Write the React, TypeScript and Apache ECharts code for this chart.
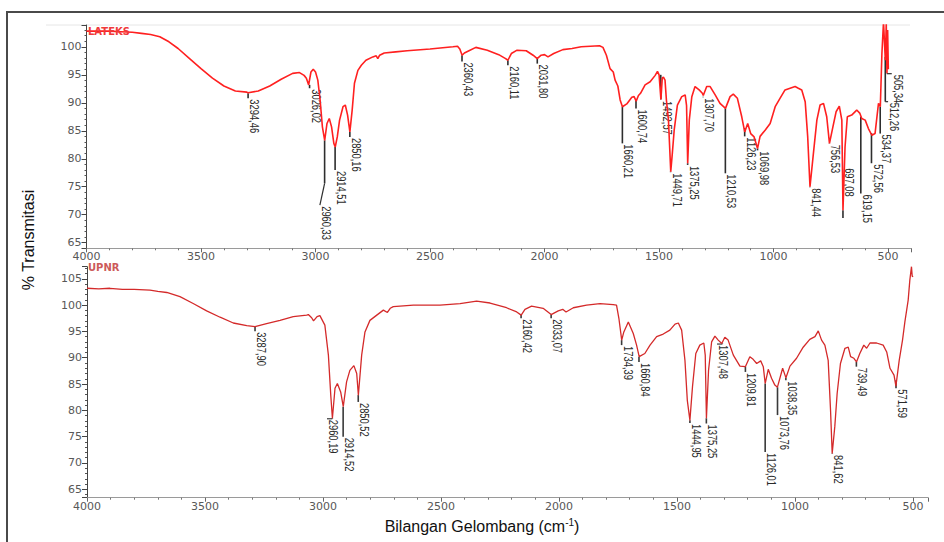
import React, { useEffect, useRef } from "react";
import * as echarts from "echarts";

// ---------- LATEKS spectrum (top) ----------
const lateksWn = [
  4000, 3950, 3900, 3850, 3800, 3760, 3720, 3680, 3640, 3600, 3550, 3500, 3450, 3400, 3350, 3300, 3294,
  3250, 3200, 3150, 3100, 3070, 3050, 3040, 3030, 3020, 3010, 3000, 2990, 2980, 2970, 2960, 2950, 2940,
  2930, 2920, 2914, 2905, 2895, 2880, 2870, 2860, 2850, 2840, 2830, 2815, 2800, 2780, 2750, 2735, 2728,
  2720, 2700, 2650, 2600, 2500, 2400, 2380, 2370, 2360, 2350, 2330, 2300, 2250, 2200, 2170, 2160, 2145,
  2120, 2080, 2050, 2032, 2015, 2000, 1985, 1960, 1920, 1880, 1840, 1800, 1760, 1745, 1730, 1714, 1700,
  1692, 1680, 1670, 1660, 1641, 1619, 1609, 1600, 1590, 1581, 1561, 1539, 1517, 1507, 1500, 1492, 1486,
  1481, 1474, 1468, 1459, 1449, 1442, 1434, 1420, 1401, 1386, 1380, 1375, 1368, 1357, 1343, 1325, 1311,
  1307, 1292, 1277, 1255, 1234, 1210, 1190, 1176, 1158, 1139, 1126, 1113, 1100, 1085, 1070, 1059, 1037,
  1015, 993, 972, 950, 928, 906, 892, 877, 862, 851, 841, 826, 811, 797, 782, 768, 756, 741, 727, 713,
  702, 697, 688, 678, 659, 637, 623, 615, 600, 586, 571, 557, 542, 534, 527, 520, 515, 512, 508, 505,
  502, 499,
];
const lateksT = [
  102.8, 102.8, 102.8, 102.7, 102.6, 102.4, 102.2, 101.8, 100.9, 99.7, 97.9, 96.1, 94.4, 93.0, 92.1, 91.9, 91.8,
  92.1, 93.0, 94.2, 95.25, 95.4, 94.9, 94.4, 93.2, 95.5, 96.0, 95.5, 94.05, 90.5, 85.7, 83.3, 86.3, 87.2,
  85.7, 82.75, 82.1, 83.9, 86.9, 89.3, 89.6, 87.8, 84.8, 88.7, 93.5, 95.8, 96.7, 97.6, 98.2, 98.4, 97.9,
  98.5, 98.9, 99.1, 99.3, 99.6, 100.0, 100.1, 99.6, 98.5, 98.9, 99.3, 99.9, 99.4, 98.6, 97.9, 97.6, 98.8,
  99.4, 99.3, 98.5, 97.9, 98.5, 98.6, 98.2, 98.8, 99.5, 99.7, 100.0, 100.1, 100.2, 99.9, 98.5, 96.1, 95.5,
  94.05, 93.0, 90.5, 89.3, 89.8, 91.0, 91.1, 90.3, 91.3, 91.7, 93.2, 93.75, 94.9, 95.6, 95.0, 90.6, 94.4,
  94.6, 94.05, 90.5, 86.9, 77.7, 81.0, 85.1, 89.6, 91.1, 91.4, 89.5, 79.2, 86.9, 91.1, 92.9, 92.3, 91.7,
  91.3, 92.9, 92.9, 91.4, 89.9, 89.0, 91.1, 91.55, 90.8, 87.5, 84.8, 86.3, 84.5, 83.9, 81.85, 84.0, 85.1,
  86.3, 89.3, 90.8, 92.3, 92.6, 92.9, 92.6, 92.3, 90.2, 83.9, 75.0, 81.0, 86.9, 89.6, 89.9, 87.5, 82.75, 85.7, 88.4, 89.4,
  86.9, 70.8, 82.1, 87.5, 87.8, 88.7, 88.1, 87.2, 86.9, 85.4, 84.2, 84.5, 89.9, 89.3, 98.8, 104.5, 100.0, 97.6, 104.2, 95.3,
  103.0, 96.0,
];

// ---------- UPNR spectrum (bottom) ----------
const upnrWn = [
  4000, 3950, 3903, 3850, 3800, 3733, 3700, 3662, 3606, 3550, 3493, 3436, 3380, 3323, 3288, 3239, 3182,
  3126, 3069, 3062, 3048, 3040, 3025, 3013, 2992, 2977, 2967, 2960, 2949, 2939, 2925, 2914, 2900, 2886,
  2869, 2857, 2850, 2836, 2822, 2801, 2772, 2744, 2727, 2715, 2702, 2617, 2504, 2419, 2349, 2292, 2222,
  2179, 2160, 2144, 2116, 2067, 2033, 2003, 1984, 1970, 1939, 1883, 1826, 1770, 1756, 1746, 1734, 1725,
  1706, 1685, 1671, 1660, 1636, 1614, 1586, 1558, 1530, 1508, 1494, 1480, 1466, 1456, 1445, 1434, 1420,
  1403, 1386, 1380, 1375, 1366, 1353, 1339, 1325, 1310, 1297, 1283, 1261, 1233, 1210, 1191, 1177, 1162,
  1145, 1134, 1126, 1113, 1099, 1085, 1074, 1052, 1042, 1038, 1021, 993, 965, 937, 915, 901, 887, 873,
  859, 849, 842, 831, 821, 807, 788, 774, 764, 750, 739, 725, 708, 696, 682, 654, 626, 611, 597, 580,
  572, 558, 544, 534, 520, 513, 506, 503, 499,
];
const upnrT = [
  103.2, 103.1, 103.2, 103.0, 103.0, 102.85, 102.6, 102.4, 101.6, 100.3, 98.9, 97.7, 96.6, 96.1, 95.9, 96.5, 97.1,
  97.8, 98.1, 98.2, 97.6, 97.0, 97.8, 98.0, 96.2, 90.5, 82.9, 78.5, 84.2, 85.1, 83.5, 80.7, 85.4, 87.6,
  88.5, 87.0, 82.9, 90.5, 94.9, 97.1, 98.1, 99.05, 98.6, 99.4, 99.7, 100.0, 100.0, 100.3, 100.75, 100.4, 99.5,
  98.7, 98.1, 99.2, 99.8, 99.4, 98.2, 98.9, 99.2, 98.7, 99.5, 100.0, 100.3, 100.1, 100.0, 97.5, 93.35, 94.9,
  96.8, 94.6, 92.4, 90.2, 90.8, 92.4, 94.0, 94.5, 95.25, 96.4, 96.6, 95.25, 89.5, 81.9, 78.1, 84.5, 90.8,
  92.4, 92.8, 90.5, 78.5, 87.6, 93.0, 94.1, 93.35, 92.7, 93.9, 93.35, 90.5, 88.4, 88.3, 90.2, 89.7, 88.9,
  89.4, 88.3, 85.1, 87.8, 86.1, 84.8, 84.4, 88.0, 86.7, 86.2, 88.4, 89.9, 92.0, 93.5, 94.0, 95.1, 93.35, 92.4,
  89.5, 80.0, 71.8, 76.9, 83.2, 88.9, 91.8, 92.0, 90.2, 89.9, 89.2, 90.8, 92.4, 91.8, 92.8, 92.8, 92.4, 91.1, 88.0, 86.7,
  84.6, 89.5, 93.35, 96.8, 100.95, 104.75, 107.3, 105.5, 105.4,
];

// ---------- Peak annotations ----------
const lateksPeakWn = [3294.46, 3026.02, 2960.33, 2914.51, 2850.16, 2360.43, 2160.11, 2031.8, 1660.21, 1600.74, 1492.57, 1449.71, 1375.25, 1307.7, 1210.53, 1126.23, 1069.98, 841.44, 756.53, 697.08, 619.15, 572.56, 534.37, 512.26, 505.34];
const lateksPeakLabels = ["3294,46", "3026,02", "2960,33", "2914,51", "2850,16", "2360,43", "2160,11", "2031,80", "1660,21", "1600,74", "1492,57", "1449,71", "1375,25", "1307,70", "1210,53", "1126,23", "1069,98", "841,44", "756,53", "697,08", "619,15", "572,56", "534,37", "512,26", "505,34"];
const lateksPeakT = [91.7, 93.2, 83.3, 82.1, 84.8, 98.5, 97.6, 97.9, 89.3, 90.5, 95.0, 77.7, 79.2, 91.1, 89.0, 85.5, 81.85, 75.0, 82.75, 70.8, 87.5, 84.6, 89.3, 98.2, 95.25];
const lateksTickEndT = [90.8, 92.6, 75.6, 78.0, 83.9, 97.4, 96.7, 97.0, 82.75, 89.0, 90.6, 77.6, 78.9, 91.0, 77.4, 84.0, 81.5, 74.9, 82.7, 69.4, 73.8, 79.2, 84.5, 90.2, 95.2];
const lateksLabelT = [90.8, 92.6, 71.7, 78.0, 83.9, 97.4, 96.7, 97.0, 82.75, 89.0, 90.5, 77.6, 78.9, 91.0, 77.4, 84.0, 81.5, 74.9, 82.7, 78.5, 73.8, 79.2, 84.5, 90.2, 95.2];
const lateksLabelWn = [3294.46, 3026.02, 2981, 2914.51, 2850.16, 2360.43, 2160.11, 2031.8, 1660.21, 1600.74, 1492.57, 1449.71, 1375.25, 1307.7, 1210.53, 1126.23, 1069.98, 841.44, 756.53, 697.08, 619.15, 572.56, 534.37, 500, 484];

const upnrPeakWn = [3287.9, 2960.19, 2914.52, 2850.52, 2160.42, 2033.07, 1734.39, 1660.84, 1444.95, 1375.25, 1307.48, 1209.81, 1126.01, 1073.76, 1038.35, 841.62, 739.49, 571.59];
const upnrPeakLabels = ["3287,90", "2960,19", "2914,52", "2850,52", "2160,42", "2033,07", "1734,39", "1660,84", "1444,95", "1375,25", "1307,48", "1209,81", "1126,01", "1073,76", "1038,35", "841,62", "739,49", "571,59"];
const upnrPeakT = [95.9, 78.5, 80.7, 82.9, 98.1, 98.2, 93.35, 90.2, 78.1, 78.5, 92.7, 88.3, 85.1, 84.4, 86.2, 71.8, 89.2, 85.7];
const upnrTickEndT = [95.05, 78.4, 75.0, 81.6, 97.5, 97.5, 92.4, 89.2, 77.6, 77.5, 92.6, 87.3, 72.1, 79.1, 85.7, 71.7, 88.3, 84.2];
const upnrLabelT = [95.05, 78.4, 75.0, 81.6, 97.5, 97.5, 92.4, 89.2, 77.6, 77.5, 92.6, 87.3, 72.1, 79.1, 85.7, 71.7, 88.3, 84.2];
const upnrLabelWn = [3287.9, 2983, 2914.52, 2850.52, 2160.42, 2033.07, 1734.39, 1660.84, 1444.95, 1375.25, 1330, 1209.81, 1126.01, 1073.76, 1038.35, 841.62, 739.49, 571.59];

const LABEL_FONT = '12px "Liberation Sans", Arial, sans-serif';
const TICK_FONT = "DejaVu Sans";

export default function App() {
  const ref = useRef<HTMLDivElement>(null);

  useEffect(() => {
    if (!ref.current) return;
    const chart = echarts.init(ref.current, undefined, { renderer: "svg" });

    const zip = (w: number[], t: number[]) => w.map((x, i) => [x, t[i]]);
    const peakData = (w: number[], s: number[], e: number[], l: number[], lw: number[]) =>
      w.map((x, i) => [x, s[i], e[i], l[i], lw[i]]);

    const peakRenderer = (labels: string[], tickColor: string) => (params: any, api: any) => {
      const wn = api.value(0);
      const lw = api.value(4);
      const p1 = api.coord([wn, api.value(1)]);
      const p2 = api.coord([wn, api.value(2)]);
      const p3 = api.coord([lw, api.value(3)]);
      const children: any[] = [
        {
          type: "line",
          shape: { x1: p1[0], y1: p1[1], x2: p2[0], y2: p2[1] },
          style: { stroke: tickColor, lineWidth: 1.6 },
        },
      ];
      if (lw !== wn) {
        children.push({
          type: "line",
          shape: { x1: p2[0], y1: p2[1], x2: p3[0], y2: p3[1] },
          style: { stroke: tickColor, lineWidth: 1.2 },
        });
      }
      children.push({
        type: "text",
        x: p3[0] + 0.5,
        y: p3[1] + 1,
        rotation: -Math.PI / 2,
        scaleX: 0.78,
        style: {
          text: labels[params.dataIndex],
          fill: "#2a2a2a",
          font: LABEL_FONT,
          align: "left",
          verticalAlign: "bottom",
        },
      });
      return { type: "group", children };
    };

    const xAxisCommon = (min: number, gridIndex: number) => ({
      type: "value",
      gridIndex,
      min,
      max: 4000,
      inverse: true,
      splitNumber: 7,
      axisLine: { show: true, onZero: false, lineStyle: { color: "#9a9a9a", width: 1 } },
      axisTick: { show: true, length: 4, lineStyle: { color: "#666" } },
      minorTick: { show: true, splitNumber: 5, length: 2, lineStyle: { color: "#777" } },
      axisLabel: {
        color: "#585858",
        fontSize: 11,
        fontFamily: TICK_FONT,
        margin: 3,
        showMinLabel: false,
        formatter: (v: number) => String(v),
      },
      splitLine: { show: false },
    });

    const yAxisCommon = (min: number, max: number, gridIndex: number, splitNumber: number) => ({
      type: "value",
      gridIndex,
      min,
      max,
      splitNumber,
      axisLine: { show: true, onZero: false, lineStyle: { color: "#444", width: 1 } },
      axisTick: { show: true, length: 5, lineStyle: { color: "#444" } },
      minorTick: { show: true, splitNumber: 5, length: 2, lineStyle: { color: "#555" } },
      axisLabel: {
        color: "#585858",
        fontSize: 11,
        fontFamily: TICK_FONT,
        margin: 5,
        showMinLabel: false,
        showMaxLabel: false,
        formatter: (v: number) => String(v),
      },
      splitLine: { show: false },
    });

    chart.setOption({
      animation: false,
      backgroundColor: "#ffffff",
      grid: [
        { left: 86.5, right: 33, top: 25, height: 223.3 },
        { left: 87, right: 16, top: 266.7, height: 231 },
      ],
      xAxis: [xAxisCommon(400, 0), xAxisCommon(436, 1)],
      yAxis: [yAxisCommon(64.0, 103.9, 0, 8), yAxisCommon(63.4, 107.3, 1, 9)],
      series: [
        {
          type: "line",
          xAxisIndex: 0,
          yAxisIndex: 0,
          data: zip(lateksWn, lateksT),
          showSymbol: false,
          lineStyle: { color: "#ff2020", width: 1.6 },
          clip: true,
        },
        {
          type: "line",
          xAxisIndex: 1,
          yAxisIndex: 1,
          data: zip(upnrWn, upnrT),
          showSymbol: false,
          lineStyle: { color: "#d42a2a", width: 1.3 },
          clip: true,
        },
        {
          type: "custom",
          xAxisIndex: 0,
          yAxisIndex: 0,
          clip: false,
          data: peakData(lateksPeakWn, lateksPeakT, lateksTickEndT, lateksLabelT, lateksLabelWn),
          renderItem: peakRenderer(lateksPeakLabels, "#2e2e2e"),
          z: 3,
        },
        {
          type: "custom",
          xAxisIndex: 1,
          yAxisIndex: 1,
          clip: false,
          data: peakData(upnrPeakWn, upnrPeakT, upnrTickEndT, upnrLabelT, upnrLabelWn),
          renderItem: peakRenderer(upnrPeakLabels, "#3a3a3a"),
          z: 3,
        },
      ],
      graphic: [
        {
          type: "rect",
          shape: { x: 7, y: 12, width: 960, height: 560 },
          style: { fill: "none", stroke: "#4a4a4a", lineWidth: 2 },
          silent: true,
        },
        {
          type: "line",
          shape: { x1: 46, y1: 25, x2: 910, y2: 25 },
          style: { stroke: "#e6e6e6", lineWidth: 1 },
          silent: true,
        },
        {
          type: "text",
          x: 88,
          y: 31,
          style: {
            text: "LATEKS",
            fill: "#f03a3a",
            font: 'bold 10px "DejaVu Sans", sans-serif',
            align: "left",
            verticalAlign: "middle",
          },
          z: 10,
        },
        {
          type: "text",
          x: 88,
          y: 267,
          style: {
            text: "UPNR",
            fill: "#cc5a5a",
            font: 'bold 10px "DejaVu Sans", sans-serif',
            align: "left",
            verticalAlign: "middle",
          },
          z: 10,
        },
        {
          type: "text",
          x: 28,
          y: 240,
          rotation: Math.PI / 2,
          style: {
            text: "% Transmitasi",
            fill: "#111",
            font: '16px "Liberation Sans", Arial, sans-serif',
            align: "center",
            verticalAlign: "middle",
          },
        },
        {
          type: "text",
          x: 482,
          y: 526,
          style: {
            text: "Bilangan Gelombang (cm{sup|-1}{n|)}",
            fill: "#111",
            font: '16px "Liberation Sans", Arial, sans-serif',
            align: "center",
            verticalAlign: "middle",
            rich: {
              sup: {
                fontSize: 10,
                fontFamily: '"Liberation Sans", Arial, sans-serif',
                fill: "#111",
                verticalAlign: "top",
                lineHeight: 18,
              },
              n: {
                fontSize: 16,
                fontFamily: '"Liberation Sans", Arial, sans-serif',
                fill: "#111",
                lineHeight: 18,
              },
            },
          },
        },
      ],
    });

    return () => chart.dispose();
  }, []);

  return (
    <div
      ref={ref}
      style={{ position: "fixed", left: 0, top: 0, width: 944, height: 542, background: "#fff" }}
    />
  );
}
